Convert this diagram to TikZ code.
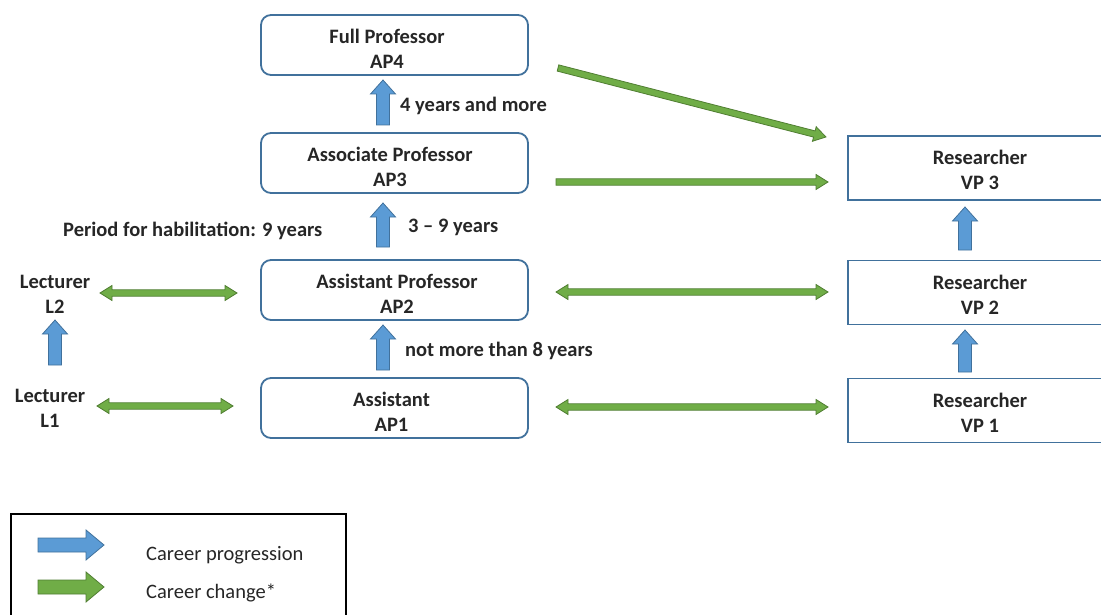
\documentclass[tikz,border=0pt]{standalone}
\usepackage{fontspec}
\setmainfont{Carlito}
\definecolor{boxblue}{HTML}{41719C}
\definecolor{progfill}{HTML}{5B9BD5}
\definecolor{progdraw}{HTML}{41719C}
\definecolor{chgfill}{HTML}{70AD47}
\definecolor{chgdraw}{HTML}{507E32}
\definecolor{txt}{HTML}{262626}
\tikzset{
  rbox/.style={draw=boxblue, line width=1.8pt, rounded corners=10pt, minimum width=267pt, minimum height=60pt, inner sep=0pt},
  sbox/.style={draw=boxblue, line width=1.8pt, minimum width=264pt, minimum height=64pt, inner sep=0pt},
  btext/.style={align=center, inner sep=0pt},
  lbl/.style={anchor=west, inner sep=0pt},
  progress/.style={fill=progfill, draw=progdraw, line width=0.8pt},
  change/.style={fill=chgfill, draw=chgdraw, line width=0.8pt},
  pics/barrow/.style args={#1/#2/#3/#4}{code={
    \path[pic actions, line join=miter] (0,-#2) -- ({#1-#4},-#2) -- ({#1-#4},-#3) -- (#1,0) -- ({#1-#4},#3) -- ({#1-#4},#2) -- (0,#2) -- cycle;
  }},
  pics/dbarrow/.style args={#1/#2/#3/#4}{code={
    \path[pic actions, line join=miter] (0,0) -- (#4,-#3) -- (#4,-#2) -- ({#1-#4},-#2) -- ({#1-#4},-#3) -- (#1,0) -- ({#1-#4},#3) -- ({#1-#4},#2) -- (#4,#2) -- (#4,#3) -- cycle;
  }}
}
\begin{document}
\begin{tikzpicture}[x=1pt, y=1pt, font=\bfseries\fontsize{20.5}{25}\selectfont, text=txt]
\useasboundingbox (0,0) rectangle (1101,-615);
% academic boxes
\node[rbox] (ap4) at (394.5,-45) {};
\node[rbox] (ap3) at (394.5,-163) {};
\node[rbox] (ap2) at (394.5,-290) {};
\node[rbox] (ap1) at (394.5,-408) {};
\node[btext] (ap4t) at ([xshift=-7.5pt,yshift=-3.5pt]ap4.center) {Full Professor\\AP4};
\node[btext] (ap3t) at ([xshift=-4.5pt,yshift=-3.5pt]ap3.center) {Associate Professor\\AP3};
\node[btext] (ap2t) at ([xshift=2.5pt,yshift=-3.5pt]ap2.center) {Assistant Professor\\AP2};
\node[btext] (ap1t) at ([xshift=-3pt,yshift=-3.5pt]ap1.center) {Assistant\\AP1};
% researcher boxes
\node[sbox] (vp3) at (980,-168) {};
\node[sbox] (vp2) at (980,-292.5) {};
\node[sbox] (vp1) at (980,-410.5) {};
\node[btext] (vp3t) at ([yshift=-2pt]vp3.center) {Researcher\\VP 3};
\node[btext] (vp2t) at ([yshift=-2pt]vp2.center) {Researcher\\VP 2};
\node[btext] (vp1t) at ([yshift=-2pt]vp1.center) {Researcher\\VP 1};
% lecturers
\node[btext] (l2) at (55,-294) {Lecturer\\L2};
\node[btext] (l1) at (50,-408) {Lecturer\\L1};
% labels
\node[lbl] (t1) at (400,-106) {4 years and more};
\node[lbl] (t2) at (408,-227) {3 -- 9 years};
\node[lbl] (t3) at (405,-351) {not more than 8 years};
\node[lbl] (t4) at (63,-231) {Period for habilitation: 9 years};
% progression arrows
\pic[progress, rotate=90] at (383,-125) {barrow=45/6.5/12.5/14};
\pic[progress, rotate=90] at (383,-247) {barrow=44/6.5/12.5/14};
\pic[progress, rotate=90] at (383,-370) {barrow=45/6.5/12.5/14};
\pic[progress, rotate=90] at (55,-365) {barrow=45/6.5/12.5/14};
\pic[progress, rotate=90] at (965,-250) {barrow=43/6.5/12.5/14};
\pic[progress, rotate=90] at (965,-372) {barrow=42/6.5/12.5/14};
% change arrows
\pic[change] at (100,-293) {dbarrow=137/3.2/7.5/12};
\pic[change] at (97,-406) {dbarrow=136/3.2/7.5/12};
\pic[change] at (556,-292) {dbarrow=272/3.2/7.5/12};
\pic[change] at (556,-407) {dbarrow=272/3.2/7.5/12};
\pic[change] at (556,-182) {barrow=272/3.2/7.5/12};
\pic[change, rotate=-14.44] at (558,-68) {barrow=276.7/3.2/7.5/12};
% legend
\draw[line width=2pt, black] (11,-514) rectangle (346,-625);
\pic[progress] at (38,-545) {barrow=66/7/15/18};
\pic[change] at (38,-587) {barrow=66/7/15/18};
\node[lbl, font=\fontsize{20.5}{24}\selectfont] (lg1) at (146,-555) {Career progression};
\node[lbl, font=\fontsize{20.5}{24}\selectfont] (lg2) at (146,-593) {Career change*};
\end{tikzpicture}
\end{document}
